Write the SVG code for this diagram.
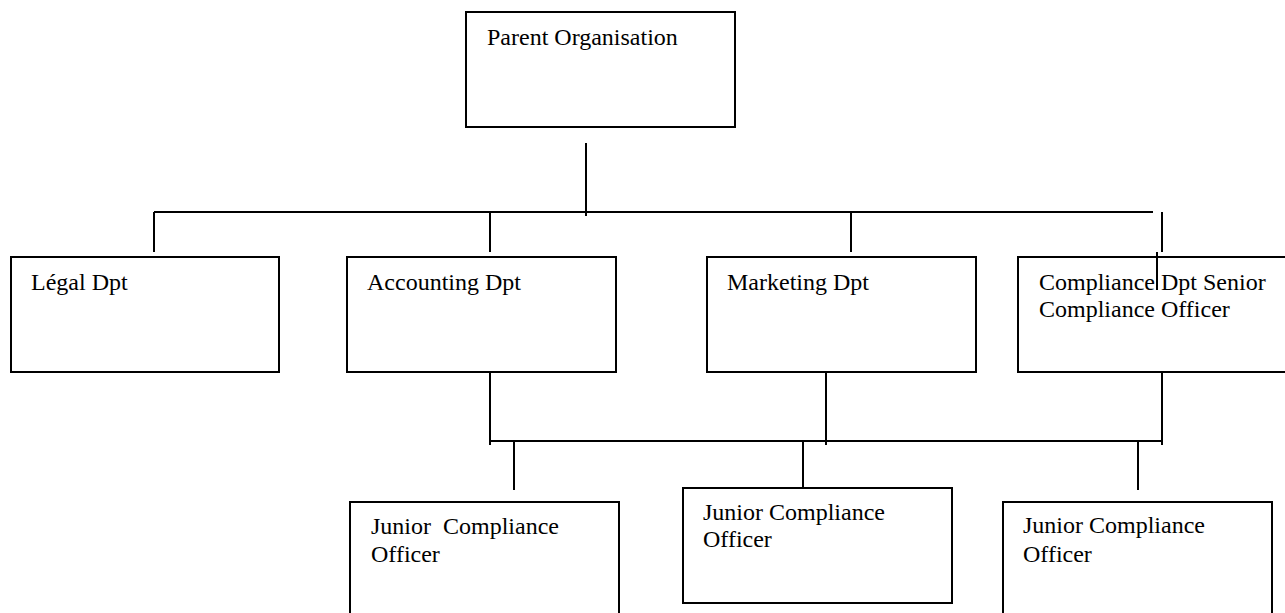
<svg xmlns="http://www.w3.org/2000/svg" width="1285" height="613" viewBox="0 0 1285 613">
<style>
.box{fill:#fff;stroke:#000;stroke-width:2}
.ln{stroke:#000;stroke-width:2;fill:none}
text{font-family:"Liberation Serif","Times New Roman",serif;font-size:24px;fill:#000}
</style>
<rect width="1285" height="613" fill="#fff"/>
<g id="connectors">
<line class="ln" x1="586" y1="143" x2="586" y2="216"/>
<line class="ln" x1="154" y1="212" x2="1153" y2="212"/>
<line class="ln" x1="154" y1="212" x2="154" y2="252"/>
<line class="ln" x1="490" y1="212" x2="490" y2="252"/>
<line class="ln" x1="851" y1="212" x2="851" y2="252"/>
<line class="ln" x1="1162" y1="212" x2="1162" y2="252"/>
<line class="ln" x1="490" y1="372" x2="490" y2="445"/>
<line class="ln" x1="826" y1="372" x2="826" y2="445"/>
<line class="ln" x1="1162" y1="372" x2="1162" y2="445"/>
<line class="ln" x1="490" y1="441" x2="1162" y2="441"/>
<line class="ln" x1="514" y1="441" x2="514" y2="490"/>
<line class="ln" x1="803" y1="441" x2="803" y2="489"/>
<line class="ln" x1="1138" y1="441" x2="1138" y2="490"/>
</g>
<g id="parent"><rect class="box" x="466" y="12" width="269" height="115"/><text x="487" y="45">Parent Organisation</text></g>
<g id="legal"><rect class="box" x="11" y="257" width="268" height="115"/><text x="31" y="290">Légal Dpt</text></g>
<g id="accounting"><rect class="box" x="347" y="257" width="269" height="115"/><text x="367" y="290">Accounting Dpt</text></g>
<g id="marketing"><rect class="box" x="707" y="257" width="269" height="115"/><text x="727" y="290">Marketing Dpt</text></g>
<g id="compliance"><rect class="box" x="1018" y="257" width="270" height="115"/><text x="1039" y="290">Compliance Dpt Senior</text><text x="1039" y="317">Compliance Officer</text></g>
<g id="compliance-mark"><line class="ln" x1="1157" y1="252" x2="1157" y2="290"/></g>
<g id="junior1"><rect class="box" x="350" y="502" width="269" height="120"/><text x="371" y="534" xml:space="preserve">Junior  Compliance</text><text x="371" y="562">Officer</text></g>
<g id="junior2"><rect class="box" x="683" y="488" width="269" height="115"/><text x="703" y="520">Junior Compliance</text><text x="703" y="547">Officer</text></g>
<g id="junior3"><rect class="box" x="1003" y="502" width="269" height="120"/><text x="1023" y="533">Junior Compliance</text><text x="1023" y="562">Officer</text></g>
</svg>
